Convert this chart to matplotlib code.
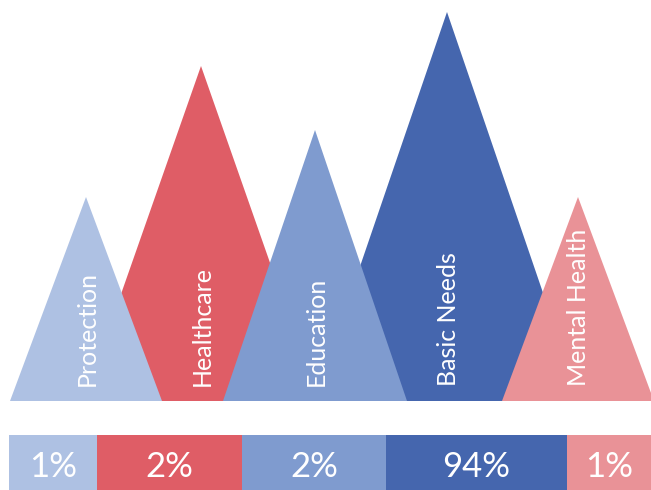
import matplotlib
matplotlib.use("Agg")
import matplotlib.pyplot as plt
from matplotlib.patches import Polygon, Rectangle

# ---- data ----
categories = ["Protection", "Healthcare", "Education", "Basic Needs", "Mental Health"]
percentages = [1, 2, 2, 94, 1]
peak_heights = [204, 335, 271, 389, 204]   # relative triangle heights

# ---- layout / style ----
colors = ["#AEC1E3", "#DF5D66", "#7F9BCF", "#4566AE", "#E99297"]
centers = [86, 201, 315, 447, 578]
half_widths = [76, 117.5, 92, 133, 76]
zorders = [3, 1, 3, 1, 3]
segment_widths = [88, 145, 144, 181, 84]
seg_start = 9
base_y = 89
bar_h = 55

plt.rcParams['font.family'] = ['Lato', 'DejaVu Sans']

fig = plt.figure(figsize=(6.51, 4.90), dpi=100)
ax = fig.add_axes([0, 0, 1, 1])
ax.set_xlim(0, 651)
ax.set_ylim(0, 490)
ax.axis("off")

for cat, h, c, cx, hw, z in zip(categories, peak_heights, colors, centers, half_widths, zorders):
    tri = Polygon([(cx - hw, base_y), (cx + hw, base_y), (cx, base_y + h)],
                  closed=True, facecolor=c, edgecolor="none", zorder=z)
    ax.add_patch(tri)
    ax.text(cx + 1, base_y + 15, cat, rotation=90, ha="center", va="bottom",
            color="white", fontsize=18, zorder=10)

x = seg_start
for p, w, c in zip(percentages, segment_widths, colors):
    ax.add_patch(Rectangle((x, 0), w, bar_h, facecolor=c, edgecolor="none", zorder=2))
    ax.text(x + w / 2, 13, f"{p}%", ha="center", va="baseline",
            color="white", fontsize=25, zorder=10)
    x += w

fig.savefig("out.png", dpi=100)
